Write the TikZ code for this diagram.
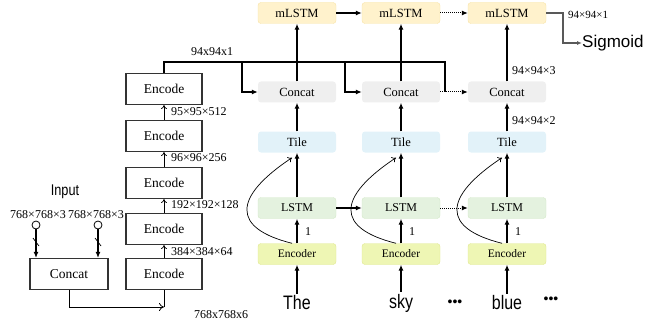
\documentclass[tikz,border=0pt]{standalone}
\usepackage{fontspec}
\setmainfont{Liberation Serif}
\newfontfamily\arial{Liberation Sans}
\usetikzlibrary{arrows.meta}

\definecolor{mfill}{HTML}{FFF2CC}
\definecolor{mline}{HTML}{F7E3A6}
\definecolor{cfill}{HTML}{EFEFEF}
\definecolor{tfill}{HTML}{E2F2F9}
\definecolor{lfill}{HTML}{E4F2DF}
\definecolor{lline}{HTML}{D3E9C8}
\definecolor{efill}{HTML}{EEF6B4}
\definecolor{eline}{HTML}{E0E890}

\newcommand{\narrow}[1]{\scalebox{0.82}[1]{#1}}

\tikzset{
  encbox/.style={draw=black!80, line width=1.1pt, minimum width=76pt,
    minimum height=31pt, font=\fontsize{13.5}{14}\selectfont},
  blk/.style={rounded corners=3pt, minimum width=78pt, minimum height=21pt,
    font=\fontsize{12.5}{13}\selectfont},
  dim/.style={font=\fontsize{12}{12}\selectfont, inner sep=0pt},
  word/.style={font=\arial\fontsize{19.5}{20}\selectfont, inner sep=2pt},
  flow/.style={line width=1.6pt, -{Latex[length=6pt,width=5pt]}},
  dotflow/.style={densely dotted, line width=1pt, -{Latex[length=6pt,width=5pt]}},
  skip/.style={line width=0.7pt, -{To[length=4pt,width=6pt]}},
}

\begin{document}
\begin{tikzpicture}[x=1pt,y=-1pt]
  \useasboundingbox (0,0) rectangle (647,326);

  % encoder stack on the left
  \node[encbox] (e1) at (164,89) {Encode};
  \node[encbox] (e2) at (164,136) {Encode};
  \node[encbox] (e3) at (164,183) {Encode};
  \node[encbox] (e4) at (164,229) {Encode};
  \node[encbox] (e5) at (164,274) {Encode};
  \node[encbox, minimum width=78pt] (cat) at (69,274) {Concat};

  \draw[skip] (e5.north) -- (e4.south);
  \draw[skip] (e4.north) -- (e3.south);
  \draw[skip] (e3.north) -- (e2.south);
  \draw[skip] (e2.north) -- (e1.south);
  \node[dim, anchor=west] at (171,252) {384×384×64};
  \node[dim, anchor=west] at (171,205) {192×192×128};
  \node[dim, anchor=west] at (171,158) {96×96×256};
  \node[dim, anchor=west] at (171,112) {95×95×512};

  % two inputs
  \node[font=\arial\fontsize{15.5}{16}\selectfont] (input) at (65,192) {\narrow{Input}};
  \node[dim] (s1) at (38,215) {768×768×3};
  \node[dim] (s2) at (96,215) {768×768×3};
  \node[circle, draw, line width=0.8pt, inner sep=0pt, minimum size=8pt] (in1) at (36,225) {};
  \node[circle, draw, line width=0.8pt, inner sep=0pt, minimum size=8pt] (in2) at (98,225) {};
  \draw[flow] (in1) -- (in1 |- cat.north);
  \draw[flow] (in2) -- (in2 |- cat.north);
  \draw[line width=0.7pt] (33,238) -- (39,246);
  \draw[line width=0.7pt] (95,238) -- (101,246);

  \coordinate (jn) at (164,307);
  \draw[line width=0.8pt, -{To[length=5pt,width=8pt]}] (cat.south) |- (jn);
  \draw[line width=0.8pt] (jn) -- (e5.south);
  \node[dim] at (221,315) {768x768x6};

  % one column per word
  \foreach \i/\x/\w in {1/297/The,2/401/sky,3/507/blue}{
    \node[blk, fill=mfill, draw=mline] (m\i) at (\x,13) {mLSTM};
    \node[blk, fill=cfill] (c\i) at (\x,92) {Concat};
    \node[blk, fill=tfill] (t\i) at (\x,142) {Tile};
    \node[blk, fill=lfill, draw=lline, font=\fontsize{12}{12}\selectfont] (l\i) at (\x,208) {LSTM};
    \node[blk, fill=efill, draw=eline, font=\fontsize{11.5}{12}\selectfont] (n\i) at (\x,254) {Encoder};
    \node[word] (w\i) at (\x,303) {\narrow{\w}};

    \draw[flow] (w\i.north) -- (n\i.south);
    \draw[flow] (n\i.north) -- (l\i.south);
    \draw[flow] (l\i.north) -- (t\i.south);
    \draw[flow] (t\i.north) -- (c\i.south);
    \draw[flow] (c\i.north) -- (m\i.south);
    \node[dim] at (\x+11,232) {1};
    \draw[skip] ([xshift=-5pt]n\i.north) .. controls +(-60,-15) and +(-60,40) .. ([xshift=-5pt,yshift=-5pt]t\i.south);
  }

  \draw[flow] (m1) -- (m2);
  \draw[dotflow] (m2) -- (m3);
  \draw[flow] (l1) -- (l2);
  \draw[dotflow] (l2) -- (l3);
  \draw[dotflow] (c2) -- (c3);

  % shared feature map
  \draw[line width=1.6pt] (e1.north) |- (445,62) -- (445,92);
  \draw[flow] (242,62) |- (c1.west);
  \draw[flow] (345,62) |- (c2.west);
  \node[dim] at (212,52) {94x94x1};

  \node[dim, anchor=west] at (512,71) {94×94×3};
  \node[dim, anchor=west] at (512,121) {94×94×2};

  % output
  \node[font=\arial\fontsize{17}{17}\selectfont, anchor=west, inner sep=0pt] (sig) at (582,43) {Sigmoid};
  \draw[black!65, line width=1.2pt, -{Latex[length=5pt,width=4pt]}] (m3.east) -| (563,43) -- (sig.west);
  \node[dim, anchor=west, font=\fontsize{11}{11}\selectfont] at (568,15) {94×94×1};

  \node[font=\arial\fontsize{14}{14}\selectfont] (d1) at (455,303) {•••};
  \node[font=\arial\fontsize{14}{14}\selectfont] (d2) at (551,300) {•••};
\end{tikzpicture}
\end{document}
